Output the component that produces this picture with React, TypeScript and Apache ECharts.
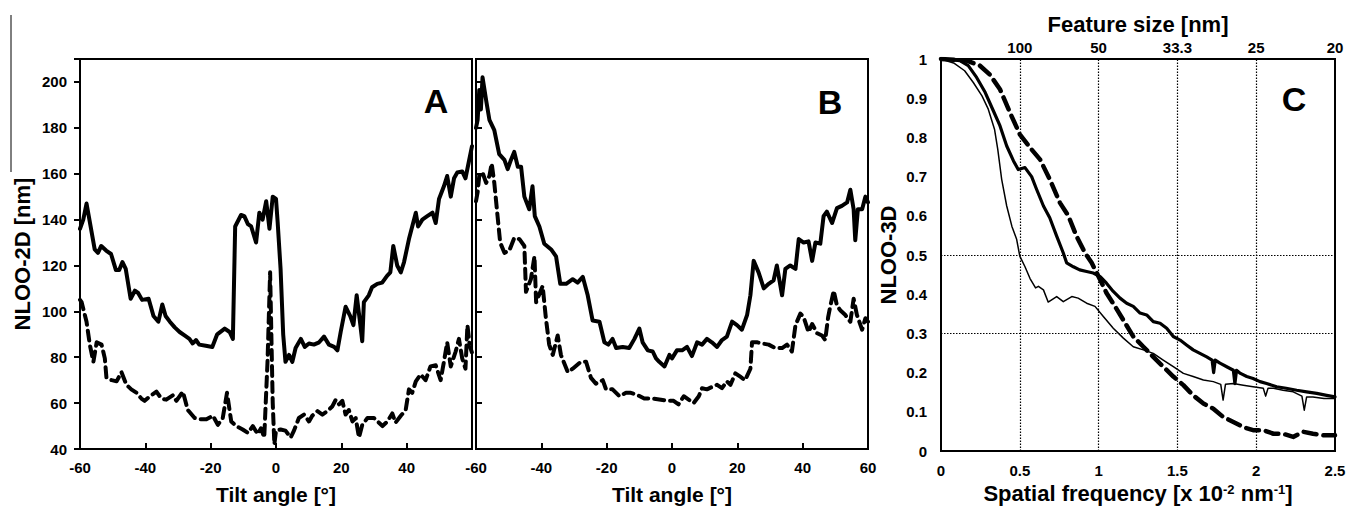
import React, { useEffect, useRef } from "react";
import * as echarts from "echarts";

// ---------- DATA ----------
const aSolid: number[][] = [[-60,136],[-59,140],[-58,147],[-57,139],[-55.5,127],[-54.5,125.5],[-53.5,128.5],[-52,126.5],[-50.5,125],[-49,118],[-48,118],[-47,121.5],[-46,118.5],[-44.5,105.5],[-43.2,109],[-42.2,108],[-41,105],[-39,105.5],[-37.5,98],[-36,95.5],[-34.8,103],[-33.8,98],[-32.5,95.5],[-31,93],[-29.5,91],[-28,89.5],[-26.5,88],[-25.5,86],[-24.5,87.5],[-23.5,85.5],[-21.5,85],[-19.5,84.5],[-18,90],[-15.7,92.5],[-14.2,91],[-13.2,88],[-12.5,137],[-10.7,142],[-9.7,141.5],[-8.6,138],[-7.6,137],[-6.1,130],[-5.1,143],[-4.1,140],[-3,148],[-2,136],[-1,150],[0,149],[0.5,139],[1.4,118.5],[2.2,90],[2.9,78],[4,81],[5,78],[6,84],[7.6,88],[8.8,84.5],[10.1,86],[11.6,85.5],[13.2,86.5],[14.7,89],[16.2,85.5],[17.8,84.5],[18.8,83],[19.8,91],[21.3,102],[22.7,98],[23.7,94],[24.7,107],[25.7,95.5],[26.4,87],[26.9,104],[28.4,107],[29.4,110.5],[31,112],[32.5,112.5],[34,115.5],[35,117],[35.9,128.5],[37.1,120],[38.2,117],[39.2,121.5],[40.7,131.5],[41.7,137],[42.8,143],[43.5,137],[44.8,140],[46.3,141.5],[47.9,143],[48.9,138.5],[49.9,149],[51.4,154.5],[52.4,159],[53.5,150],[54.5,158],[55.5,160.5],[57,161],[58,158],[59,165],[60,172]];

const aDashed: number[][] = [[-60,105],[-59.5,104],[-58,95.5],[-57,85.5],[-55.9,78],[-54.9,86.5],[-53.4,85.5],[-52.4,79.5],[-51.9,71],[-50.3,70],[-48.8,69.5],[-47.3,73.5],[-45.8,68],[-44.3,66],[-42.7,64.5],[-41.2,62],[-40.2,61],[-38.6,63],[-36.6,65],[-35.1,62],[-33.6,61.5],[-31.5,63.5],[-30.5,61],[-28.5,65],[-27,57],[-24.9,53.5],[-23.4,53],[-21.3,53],[-19.3,54.5],[-17.8,50.5],[-16.3,53.5],[-15,64.5],[-13.7,52],[-12.2,50],[-10.2,48.5],[-8.6,47],[-7.1,50],[-5.6,46.5],[-4.6,49],[-3.6,45],[-2.6,78],[-1.8,117],[-1,60],[-0.5,42],[0,48],[1.4,48.5],[2.9,48],[4.5,45],[5.5,48],[7,53.5],[8.6,55],[10.1,52],[11.1,54.5],[12.7,56.5],[14.2,55],[15.7,56.5],[17.2,58.5],[18.3,61.5],[19.3,59.5],[20.3,61],[21.3,55],[22.3,57],[23.4,52],[24.4,53.5],[25.4,45],[26.4,50.5],[28,53.5],[30,53.5],[32.6,50],[34.1,52],[35.6,55.5],[36.6,51.5],[38.2,54.5],[39.7,57],[40.7,66],[41.7,64.5],[42.8,69.5],[44.3,72.5],[45.8,70],[47.3,76],[48.9,76.5],[50.4,70],[51.4,78],[52.4,86.5],[53.5,76],[55,82.5],[56,88],[57,79.5],[58,75],[58.6,94],[59.3,85],[60,82]];

const bSolid: number[][] = [[-60,180],[-59.5,183.5],[-59,196.5],[-58.5,188],[-58,202],[-56.9,192],[-55.9,183.5],[-54.4,179],[-52.9,168.5],[-51.3,166],[-50.3,162],[-49.3,166],[-48.3,169.5],[-47.2,163],[-46.2,163],[-45.2,150],[-43.7,144.5],[-42.7,154.5],[-42,141.5],[-40.6,137],[-39.1,129.5],[-37,127],[-35.5,124],[-34.2,112],[-32.4,112],[-30.4,114],[-28.9,112.5],[-27.3,115],[-25.8,107],[-24.3,96],[-22.2,95.5],[-20.7,86.5],[-19.5,85.5],[-18.2,88],[-17.1,84],[-15.1,84.5],[-13.1,84],[-11.5,88],[-10,92.5],[-9,86.5],[-7.4,83],[-5.9,82.5],[-4.9,79.5],[-3.9,78],[-2.3,76],[-0.8,81],[0,79.5],[1.5,83],[3.1,83],[4.6,84.5],[6.1,80.5],[7.7,86.5],[9.2,85.5],[10.7,88],[12.2,86.5],[13.8,84.5],[15.3,87.5],[16.8,89],[18.4,95.5],[19.9,94],[21.4,92],[23,98.5],[24,107],[25,122],[26.5,117],[28.1,110],[29.6,112],[31.1,113.5],[32.1,120],[33.7,107],[34.7,118.5],[36.2,120],[37.8,118.5],[38.8,131.5],[40.3,130],[41.8,130.5],[42.9,122],[43.9,130],[45.4,129.5],[46.4,141.5],[47.4,143.5],[49,138.5],[50.5,145],[52,146],[53.6,147.5],[54.6,153],[55.6,144.5],[56.1,131],[56.9,144.5],[58.2,144.5],[59.2,150],[60,147.5]];

const bDashed: number[][] = [[-60,148],[-59.5,152],[-59,159],[-58,160.5],[-56.9,156],[-55.9,159],[-55.2,164.5],[-54.4,156],[-53.4,141.5],[-52.6,130],[-51.3,125.5],[-49.8,126.5],[-48.3,132],[-46.7,131.5],[-45.2,128.5],[-44.7,108.5],[-43.2,114],[-42.1,124],[-41.6,104],[-39.6,111],[-38.6,97],[-37.6,85.5],[-36.5,81],[-35,89.5],[-34,81],[-31.9,73.5],[-30.4,75],[-27.9,78],[-26.3,78],[-24.8,71],[-23.3,68.5],[-21.2,70],[-20.2,66],[-18.2,66],[-16.1,63],[-14.1,64.5],[-12.6,64.5],[-10.5,63.5],[-8.5,62],[-5.9,62],[-3.4,61.5],[-1.3,61],[0.5,61],[2,59.5],[3.6,63],[5.1,61.5],[6.6,60],[8.2,63],[9.2,66.5],[10.7,66],[12.2,67],[13.8,68],[15.3,66.5],[16.8,69.5],[17.9,68],[19.4,73],[20.9,71.5],[22.4,70],[24,75],[24.5,86.5],[26,86.5],[27.6,86],[29.6,85.5],[31.6,84],[33.7,84],[35.2,85.5],[36.7,82.5],[37.8,94],[39.3,99],[40.3,97.5],[41.8,91],[42.9,94.5],[44.4,90.5],[45.9,89.5],[46.9,87.5],[47.8,97.5],[48.5,102.5],[49.5,109],[50.5,102.5],[51.5,100.5],[53,98.5],[54.6,95.5],[55.6,105.5],[56.6,98.5],[57.7,94],[58.2,92],[59.2,97],[60,95.5]];

const cThin: number[][] = [[0,1],[0.08,0.99],[0.15,0.97],[0.205,0.94],[0.26,0.906],[0.3,0.872],[0.34,0.82],[0.36,0.77],[0.385,0.693],[0.417,0.625],[0.45,0.573],[0.48,0.54],[0.5,0.497],[0.533,0.47],[0.565,0.44],[0.6,0.416],[0.618,0.42],[0.65,0.411],[0.68,0.38],[0.734,0.394],[0.776,0.381],[0.83,0.394],[0.87,0.39],[0.924,0.377],[0.977,0.369],[1.03,0.343],[1.093,0.313],[1.157,0.288],[1.22,0.266],[1.284,0.258],[1.347,0.249],[1.41,0.232],[1.474,0.215],[1.538,0.198],[1.6,0.19],[1.665,0.181],[1.728,0.177],[1.775,0.17],[1.79,0.13],[1.805,0.17],[1.855,0.172],[1.918,0.168],[1.98,0.164],[2.045,0.16],[2.06,0.14],[2.075,0.16],[2.11,0.16],[2.17,0.155],[2.235,0.151],[2.29,0.14],[2.305,0.104],[2.32,0.138],[2.36,0.138],[2.43,0.134],[2.5,0.134]];

const cThick: number[][] = [[0,1],[0.12,0.996],[0.173,0.983],[0.226,0.953],[0.28,0.915],[0.332,0.868],[0.374,0.83],[0.417,0.778],[0.46,0.74],[0.49,0.718],[0.533,0.723],[0.575,0.7],[0.607,0.667],[0.65,0.625],[0.69,0.595],[0.734,0.548],[0.776,0.505],[0.797,0.48],[0.84,0.47],[0.88,0.462],[0.924,0.458],[0.966,0.454],[1.01,0.445],[1.05,0.428],[1.093,0.407],[1.136,0.39],[1.178,0.377],[1.22,0.369],[1.263,0.352],[1.305,0.347],[1.347,0.33],[1.39,0.326],[1.432,0.313],[1.474,0.292],[1.517,0.283],[1.56,0.27],[1.6,0.258],[1.643,0.249],[1.686,0.24],[1.72,0.232],[1.73,0.2],[1.74,0.232],[1.77,0.224],[1.813,0.215],[1.855,0.206],[1.865,0.172],[1.875,0.206],[1.9,0.198],[1.94,0.19],[1.98,0.185],[2.024,0.177],[2.066,0.172],[2.13,0.164],[2.19,0.16],[2.257,0.155],[2.32,0.151],[2.384,0.147],[2.447,0.142],[2.5,0.138]];

const cDashed: number[][] = [[0,1],[0.163,0.996],[0.247,0.983],[0.31,0.96],[0.374,0.923],[0.438,0.863],[0.5,0.808],[0.565,0.774],[0.628,0.744],[0.69,0.693],[0.755,0.633],[0.808,0.6],[0.86,0.548],[0.914,0.505],[0.956,0.48],[1.01,0.437],[1.05,0.403],[1.104,0.369],[1.157,0.334],[1.22,0.292],[1.284,0.266],[1.347,0.24],[1.41,0.215],[1.474,0.19],[1.538,0.168],[1.6,0.142],[1.665,0.121],[1.728,0.108],[1.79,0.087],[1.855,0.074],[1.918,0.061],[1.98,0.053],[2.045,0.053],[2.11,0.044],[2.17,0.044],[2.235,0.036],[2.3,0.049],[2.36,0.044],[2.43,0.04],[2.5,0.04]];

const tiltTicks = [-60, -40, -20, 0, 20, 40, 60];
const nlooTicks = [40, 60, 80, 100, 120, 140, 160, 180, 200];
const featureSizeLabels = ["", "100", "50", "33.3", "25", "20"];
const cGridX = [0.5, 1, 1.5, 2];
const cGridY = [0.3, 0.5];
const panelLetters = ["A", "B", "C"];

const FONT = "Liberation Sans, Arial, sans-serif";
const BLACK = "#000";

export default function App() {
  const ref = useRef<HTMLDivElement>(null);
  useEffect(() => {
    document.body.style.margin = "0";
    if (!ref.current) return;
    const chart = echarts.init(ref.current, undefined, { renderer: "svg" });

    const labelStyle = { color: BLACK, fontSize: 15, fontWeight: "bold" as const, fontFamily: FONT };
    const nameStyle = { color: BLACK, fontSize: 22, fontWeight: "bold" as const, fontFamily: FONT };
    const tick = (inside: boolean) => ({ show: true, inside, length: 6, lineStyle: { color: BLACK, width: 2 } });
    const axisLine = { show: true, onZero: false, lineStyle: { color: BLACK, width: 2 } };
    const gridBase = {
      show: true,
      borderColor: BLACK,
      borderWidth: 2,
      backgroundColor: "transparent",
      containLabel: false,
      outerBoundsMode: "none",
    };

    const tiltX = (idx: number, showMax: boolean) => ({
      type: "value",
      gridIndex: idx,
      min: -60,
      max: 60,
      interval: 20,
      axisLine,
      axisTick: tick(true),
      axisLabel: { ...labelStyle, margin: 11, customValues: showMax ? tiltTicks : tiltTicks.slice(0, -1) },
      splitLine: { show: false },
      name: "Tilt angle [°]",
      nameLocation: "middle",
      nameGap: 35,
      nameTextStyle: { ...nameStyle, fontSize: 21 },
    });

    const lineSolid = (w: number) => ({ color: BLACK, width: w, type: "solid", cap: "round", join: "round" });
    const lineDash = (w: number, d: number[]) => ({ color: BLACK, width: w, type: d, cap: "round", join: "round" });

    const option: any = {
      animation: false,
      backgroundColor: "#fff",
      grid: [
        { ...gridBase, left: 80, top: 59, width: 392, height: 390 },
        { ...gridBase, left: 476, top: 59, width: 392, height: 390 },
        { ...gridBase, left: 941, top: 59, width: 394, height: 392 },
      ],
      xAxis: [
        tiltX(0, false),
        tiltX(1, true),
        {
          type: "value",
          gridIndex: 2,
          min: 0,
          max: 2.5,
          interval: 0.5,
          axisLine,
          axisTick: { show: false },
          axisLabel: { ...labelStyle, margin: 12 },
          splitLine: { show: false },
          name: "Spatial frequency [x 10{sup|-2} nm{sup|-1}]",
          nameLocation: "middle",
          nameGap: 23,
          nameTextStyle: {
            ...nameStyle,
            rich: {
              sup: { fontSize: 13, fontWeight: "bold", fontFamily: FONT, color: BLACK, verticalAlign: "top", lineHeight: 14 },
            },
          },
        },
        {
          type: "value",
          gridIndex: 2,
          position: "top",
          min: 0,
          max: 2.5,
          interval: 0.5,
          axisLine,
          axisTick: { show: false },
          axisLabel: {
            ...labelStyle,
            margin: 4,
            formatter: (v: number) => featureSizeLabels[Math.round(v / 0.5)] ?? "",
          },
          splitLine: { show: false },
          name: "Feature size [nm]",
          nameLocation: "middle",
          nameGap: 22,
          nameTextStyle: nameStyle,
        },
      ],
      yAxis: [
        {
          type: "value",
          gridIndex: 0,
          min: 40,
          max: 210,
          interval: 20,
          axisLine,
          axisTick: tick(false),
          axisLabel: { ...labelStyle, margin: 13, customValues: nlooTicks },
          splitLine: { show: false },
          name: "NLOO-2D [nm]",
          nameLocation: "middle",
          nameGap: 47,
          nameTextStyle: nameStyle,
        },
        {
          type: "value",
          gridIndex: 1,
          min: 40,
          max: 210,
          interval: 20,
          axisLine,
          axisTick: tick(true),
          axisLabel: { show: false },
          splitLine: { show: false },
        },
        {
          type: "value",
          gridIndex: 2,
          min: 0,
          max: 1,
          interval: 0.1,
          axisLine,
          axisTick: { show: false },
          axisLabel: { ...labelStyle, margin: 14 },
          splitLine: { show: false },
          name: "NLOO-3D",
          nameLocation: "middle",
          nameGap: 42,
          nameTextStyle: nameStyle,
        },
      ],
      series: [
        { type: "line", xAxisIndex: 0, yAxisIndex: 0, data: aSolid, showSymbol: false, symbol: "none", lineStyle: lineSolid(4) },
        { type: "line", xAxisIndex: 0, yAxisIndex: 0, data: aDashed, showSymbol: false, symbol: "none", lineStyle: lineDash(4, [10, 6]) },
        { type: "line", xAxisIndex: 1, yAxisIndex: 1, data: bSolid, showSymbol: false, symbol: "none", lineStyle: lineSolid(4) },
        { type: "line", xAxisIndex: 1, yAxisIndex: 1, data: bDashed, showSymbol: false, symbol: "none", lineStyle: lineDash(4, [10, 6]) },
        {
          type: "line", xAxisIndex: 2, yAxisIndex: 2, data: cThin, showSymbol: false, symbol: "none", lineStyle: lineSolid(1.5),
          markLine: {
            silent: true,
            symbol: "none",
            label: { show: false },
            lineStyle: { color: BLACK, width: 1.2, type: [1.5, 1.5] },
            data: [...cGridX.map((v) => ({ xAxis: v })), ...cGridY.map((v) => ({ yAxis: v }))],
          },
        },
        { type: "line", xAxisIndex: 2, yAxisIndex: 2, data: cThick, showSymbol: false, symbol: "none", lineStyle: lineSolid(3.2) },
        { type: "line", xAxisIndex: 2, yAxisIndex: 2, data: cDashed, showSymbol: false, symbol: "none", lineStyle: lineDash(4.5, [13, 7]) },
      ],
      graphic: [
        { type: "line", shape: { x1: 11, y1: 15, x2: 11, y2: 172 }, style: { stroke: BLACK, lineWidth: 1 } },
        { type: "text", x: 436, y: 101, style: { text: panelLetters[0], font: `bold 34px ${FONT}`, fill: BLACK, align: "center", verticalAlign: "middle" } },
        { type: "text", x: 830, y: 102, style: { text: panelLetters[1], font: `bold 34px ${FONT}`, fill: BLACK, align: "center", verticalAlign: "middle" } },
        { type: "text", x: 1294, y: 99, style: { text: panelLetters[2], font: `bold 34px ${FONT}`, fill: BLACK, align: "center", verticalAlign: "middle" } },
      ],
    };
    chart.setOption(option);
    return () => chart.dispose();
  }, []);
  return <div ref={ref} style={{ position: "absolute", left: 0, top: 0, width: 1360, height: 508 }} />;
}
